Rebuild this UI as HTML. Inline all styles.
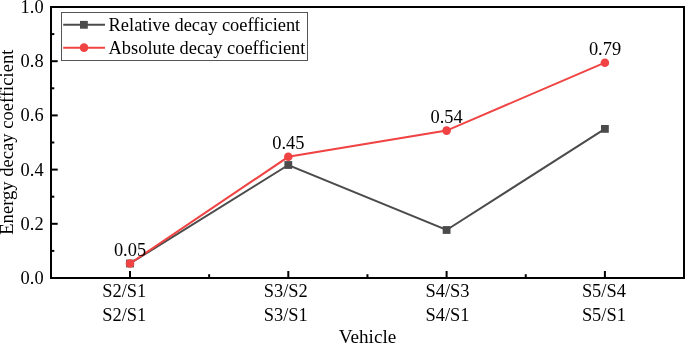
<!DOCTYPE html>
<html><head><meta charset="utf-8">
<style>
html,body{margin:0;padding:0;background:#fff;width:685px;height:344px;overflow:hidden;}
svg{display:block;will-change:transform;}
text{font-family:"Liberation Serif",serif;fill:#000;}
</style></head>
<body>
<svg width="685" height="344" viewBox="0 0 685 344">
<rect x="51" y="7" width="633" height="271" fill="none" stroke="#000" stroke-width="2"/>
<g stroke="#000" stroke-width="2">
<line x1="51" y1="250.90" x2="54.3" y2="250.90"/>
<line x1="51" y1="223.80" x2="57.7" y2="223.80"/>
<line x1="51" y1="196.70" x2="54.3" y2="196.70"/>
<line x1="51" y1="169.60" x2="57.7" y2="169.60"/>
<line x1="51" y1="142.50" x2="54.3" y2="142.50"/>
<line x1="51" y1="115.40" x2="57.7" y2="115.40"/>
<line x1="51" y1="88.30" x2="54.3" y2="88.30"/>
<line x1="51" y1="61.20" x2="57.7" y2="61.20"/>
<line x1="51" y1="34.10" x2="54.3" y2="34.10"/>
<line x1="130" y1="278" x2="130" y2="271"/>
<line x1="288.3" y1="278" x2="288.3" y2="271"/>
<line x1="446.6" y1="278" x2="446.6" y2="271"/>
<line x1="604.9" y1="278" x2="604.9" y2="271"/>
<line x1="209.15" y1="278" x2="209.15" y2="274.2"/>
<line x1="367.45" y1="278" x2="367.45" y2="274.2"/>
<line x1="525.75" y1="278" x2="525.75" y2="274.2"/>
</g>
<g font-size="18.4" text-anchor="end">
<text x="43.6" y="284.00">0.0</text>
<text x="43.6" y="229.80">0.2</text>
<text x="43.6" y="175.60">0.4</text>
<text x="43.6" y="121.40">0.6</text>
<text x="43.6" y="67.20">0.8</text>
<text x="43.6" y="13.00">1.0</text>
</g>
<g font-size="18.4">
<text x="102.3" y="296.8">S2/S1</text><text x="102.3" y="320.6">S2/S1</text>
<text x="263.8" y="296.8">S3/S2</text><text x="263.8" y="320.6">S3/S1</text>
<text x="425.5" y="296.8">S4/S3</text><text x="425.5" y="320.6">S4/S1</text>
<text x="581.9" y="296.8">S5/S4</text><text x="581.9" y="320.6">S5/S1</text>
</g>
<text x="367.5" y="343.4" font-size="19.2" text-anchor="middle">Vehicle</text>
<text font-size="18.6" text-anchor="middle" transform="translate(13.1,142.2) rotate(-90)">Energy decay coefficient</text>
<polyline points="130,263.5 288.3,165 446.6,230 604.9,128.9" fill="none" stroke="#4b4b4b" stroke-width="2"/>
<g fill="#4b4b4b">
<rect x="126.10" y="259.60" width="7.8" height="7.8"/>
<rect x="284.40" y="161.10" width="7.8" height="7.8"/>
<rect x="442.70" y="226.10" width="7.8" height="7.8"/>
<rect x="601.00" y="125.00" width="7.8" height="7.8"/>
</g>
<polyline points="130,263.5 288.3,156.8 446.6,130.6 604.9,62.7" fill="none" stroke="#F04343" stroke-width="2"/>
<g fill="#F04343">
<circle cx="130" cy="263.5" r="4.3"/>
<circle cx="288.3" cy="156.8" r="4.3"/>
<circle cx="446.6" cy="130.6" r="4.3"/>
<circle cx="604.9" cy="62.7" r="4.3"/>
</g>
<g font-size="18.4" text-anchor="middle">
<text x="130" y="256">0.05</text>
<text x="288.3" y="149">0.45</text>
<text x="446.6" y="123.2">0.54</text>
<text x="605" y="55.4">0.79</text>
</g>
<rect x="61.5" y="12.5" width="246" height="48" fill="#fff" stroke="#555" stroke-width="1"/>
<line x1="63.2" y1="24.8" x2="105" y2="24.8" stroke="#4b4b4b" stroke-width="2"/>
<rect x="80" y="20.9" width="7.8" height="7.8" fill="#4b4b4b"/>
<line x1="63.2" y1="47.8" x2="105" y2="47.8" stroke="#F04343" stroke-width="2"/>
<circle cx="84" cy="47.6" r="4.3" fill="#F04343"/>
<g font-size="18.4">
<text x="108.6" y="31">Relative decay coefficient</text>
<text x="108.6" y="54.4">Absolute decay coefficient</text>
</g>
</svg>
</body></html>
